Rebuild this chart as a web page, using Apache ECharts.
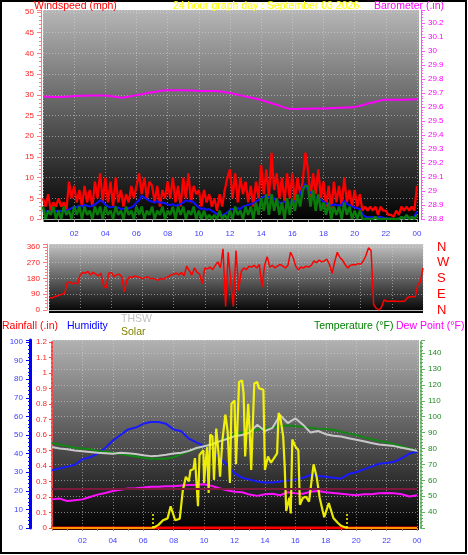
<!DOCTYPE html>
<html><head><meta charset="utf-8">
<script src="https://cdn.jsdelivr.net/npm/echarts@6/dist/echarts.min.js"></script>
<style>html,body{margin:0;padding:0;background:#fff}#c{width:468px;height:555px}</style>
</head><body><div id="c"></div>
<script>
// ---------- data ----------
const hourLabels = ['', '02', '04', '06', '08', '10', '12', '14', '16', '18', '20', '22', '00'];
const dirLetters = ['N', 'E', 'S', 'W', 'N'];

// wind, 10-minute samples 00:00 .. 24:00 (mph)
const windGust = [
5,3,6,2,4,3, 5,3,4,2,9,5, 8,4,7,3,8,4, 7,3,9,5,11,4, 10,4,9,3,10,4, 7,3,6,4,8,5,
8,11,6,10,5,9, 8,4,8,3,7,5, 9,5,10,4,8,3, 10,5,11,4,8,6, 7,3,7,4,6,3, 5,2,6,3,7,10,
12,5,11,4,10,6, 9,4,8,3,9,5, 13,6,12,5,16,7, 11,5,10,4,11,5, 11,4,10,6,9,16, 12,5,11,6,12,5,
9,3,8,2,9,4, 8,3,10,4,7,3, 7,3,6,2,3,2, 3,2,3,1,3,2, 2,1,1,0.5,2,1, 3,2,3,2,3,2, 8];
const windAvg = [
2,1.8,2,1.7,1.8,2, 1.8,2,1.7,2,2.3,2.6, 3,2.8,3.2,3,3.4,3.2, 3,3.2,3.5,4,4.5,4.2, 3.5,3,2.8,3,2.7,2.8, 2.4,2.5,2.3,2.6,2.8,3.2,
4,4.5,5.6,5.2,4.8,4.4, 4.2,4,4.3,3.9,4,3.8, 3.5,3.4,3.6,3.2,3.4,3.6, 4,4.5,4.3,4.4,4,3.4, 2.8,2.4,2.6,2.2,2.4,2, 1.6,1.2,1,0.8,1.2,1.6,
2.2,2.4,2.2,2.6,2.4,3, 3.2,3.4,3.6,3.8,4.2,4.6, 5,5.4,5.6,5.2,5.8,5, 4.4,4,3.8,4.2,4,3.8, 4.4,4.2,5,6,7.5,8.5, 7,6.3,6,5.2,5,4.6,
4.2,3.8,3.4,3.2,3.6,3.3, 3.4,3.2,4.5,3.6,3.4,3, 2.8,2.6,2.4,1.2,0.6,0.4, 0.4,0.5,0.3,0.4,0.5,0.3, 0.2,0,0.1,0,0,0.1, 0.3,0.4,0.5,0.4,0.3,0.6, 1.8];
const windLow = [
3,0,2,1,3,0, 2,0,3,1,2,0, 3,1,3,0,3,1, 2,0,3,1,3,0, 3,1,2,0,3,1, 2,0,3,1,2,0,
3,1,3,0,2,1, 3,0,2,1,3,0, 2,1,3,0,3,1, 3,0,2,1,3,0, 2,0,2,0,1,0, 1,0,2,0,1,0,
2,0,3,1,2,0, 3,1,3,0,4,1, 5,2,6,1,6,2, 5,1,4,0,5,1, 5,2,6,3,7,8, 8,3,7,2,6,2,
4,1,4,0,3,1, 3,0,4,1,3,0, 2,0,2,0,0,0, 0,0,0.5,0,0,0, 0,0,0,0,0,0, 0.5,0,1,0,0.5,0, 1];

// barometer, hourly (in)
const baroValues = [29.675,29.672,29.678,29.682,29.683,29.667,29.685,29.705,29.72,29.72,29.715,29.714,29.70,
29.675,29.65,29.615,29.585,29.588,29.59,29.595,29.60,29.628,29.652,29.652,29.655];

// wind direction, 10-minute samples (degrees)
const windDir = [
70,68,75,80,85,90, 95,155,160,150,155,150, 200,215,210,220,200,215, 205,195,210,140,125,210, 215,190,200,205,190,105, 170,190,185,195,190,185,
180,185,190,178,182,175, 170,180,175,185,190,200, 205,210,200,215,195,250, 225,200,240,215,205,150, 240,235,245,230,255,275, 240,350,20,330,150,20,
340,110,220,240,230,250, 245,255,240,260,130,255, 305,245,255,240,250,260, 250,240,255,330,300,250, 230,245,240,250,245,255, 280,270,285,275,280,290,
260,210,275,330,300,285, 260,240,255,260,258,265, 262,280,310,355,340,30, 10,0,15,57,50,50, 52,50,50,48,50,52, 70,76,76,75,145,160, 240];

// half-hourly samples 00:00 .. 24:00
const humidity = [31,32,33,34,37,38,40,43,47,50,53,54,56,57,57,56,53,52,48,46,44,41,38,34,29.5,27,26,25,24.5,24.5,
25,25.5,26,27,28.5,28,27.5,27,26.5,29,30,31.5,33,34.5,35,35.6,37.5,40,41];
const temperature = [83.5,82.5,81.5,80.5,80,79.5,78.5,78,77.3,76.5,75.8,75,74.2,73.5,73.5,73.6,74.5,76.5,78.3,80,81.5,83,84.5,86.5,
89,90,91,92,92.5,93,94,94.4,94,93.7,93,92.5,92.2,91.8,90.5,89.5,88.5,87,86,84.8,84,82.7,81.5,80,78.5];
const thsw = [81,80,79.5,78.8,78.3,77.8,77.3,77,76.7,77.3,77,76.5,75.8,75.2,75.5,76,76.8,77.3,78.5,80.3,81.4,82.5,84.5,86,
87.7,88.5,90,95,91,93,101,96,99,95,90,91,89,88,87.5,86.5,85.5,84.5,83.5,82.5,82,81.5,80.5,79.5,78.5];
const dewPoint = [48,48.5,47,47.5,48,49.5,51,52,53.3,54,54.8,55,55.4,56,56,56.2,56.3,56.8,57,57.2,57.5,56.5,55,53.8,
52.8,52.5,51,50.2,51.2,51.5,50.6,52.5,51.8,51.6,52.8,53.3,52.5,52,51.5,51,50.6,51.2,51.2,51.8,52,51.8,51.2,49.8,50.6];

// hourly rainfall (in)
const rainfall = [0,0,0,0,0,0,0,0,0,0,0,0,0,0,0,0,0,0,0,0,0,0,0,0,0];

// solar radiation (W/m2), irregular samples
const solarHours = [0,6.65,7.0,7.3,7.6,7.8,7.9,8.1,8.4,8.6,8.8,9.0,9.1,9.3,9.4,9.5,9.6,9.7,9.95,10.0,10.1,10.2,10.3,10.4,10.55,10.65,10.8,10.95,11.05,11.2,
11.4,11.55,11.7,11.8,12.0,12.1,12.3,12.5,12.6,12.7,12.9,13.0,13.1,13.3,13.5,13.6,13.9,14.0,14.2,14.4,14.6,14.8,14.9,15.0,15.2,15.3,15.4,15.6,15.7,15.8,
16.0,16.2,16.3,16.5,16.7,16.9,17.2,17.3,17.4,17.5,17.6,17.8,17.9,18.2,18.5,18.8,19.0,19.4,24];
const solarValues = [0,0,20,50,62,140,130,50,60,240,330,300,370,380,450,440,140,470,500,290,420,520,225,600,590,310,640,480,330,560,
730,620,290,800,820,410,940,950,865,460,800,620,373,930,940,900,890,373,460,420,450,480,740,720,590,400,110,195,94,570,
525,500,150,195,200,170,410,416,330,320,195,110,70,160,65,32,15,0,0];
const sunMarks = [6.65, 19.4];

// ---------- build ----------
const step10 = i => i / 6;
const pairs = (arr, f) => arr.map((v, i) => [f(i), v]);
const half = i => i / 2;
const hourly = i => i;

const FONT = '"Liberation Sans", Arial, sans-serif';
const dotted = {show: true, lineStyle: {color: 'rgba(215,215,215,0.55)', type: [1, 2], width: 1}};
const xCommon = (grid, showLabel, margin) => ({
  type: 'value', gridIndex: grid, min: 0, max: 24, interval: 2,
  axisLine: {show: true, onZero: false, lineStyle: {color: '#bbbbbb'}},
  axisTick: {show: showLabel, length: 3, lineStyle: {color: '#999'}},
  minorTick: {show: showLabel, splitNumber: 2, length: 3, lineStyle: {color: '#999'}},
  axisLabel: {show: showLabel, color: '#4040ff', fontSize: 8, fontFamily: FONT, margin: margin,
    showMinLabel: false, formatter: v => hourLabels[Math.round(v / 2)] || ''},
  splitLine: dotted
});
const yAxisStyle = (color, fs) => ({
  axisLine: {show: true, onZero: false, lineStyle: {color: color}},
  axisTick: {show: true, length: 4, lineStyle: {color: color}},
  minorTick: {show: true, splitNumber: 5, length: 2, lineStyle: {color: color}},
  axisLabel: {color: color, fontSize: fs || 8, fontFamily: FONT, showMaxLabel: false}
});
function merge(a, b) { for (const k in b) { if (b[k] && typeof b[k] === 'object' && !Array.isArray(b[k]) && a[k]) a[k] = merge(Object.assign({}, a[k]), b[k]); else a[k] = b[k]; } return a; }

const lineS = (name, x, y, data, color, w, extra) => Object.assign({
  name, type: 'line', xAxisIndex: x, yAxisIndex: y, data, symbol: 'none', animation: false,
  lineStyle: {color, width: w}, itemStyle: {color}
}, extra || {});

const bg = (x, y, w, h, top) => ({
  type: 'rect', z: -10, shape: {x, y, width: w, height: h},
  style: {fill: new echarts.graphic.LinearGradient(0, 0, 0, 1, [{offset: 0, color: top}, {offset: 1, color: '#000'}])}
});
const txt = (text, x, y, fill) => ({
  type: 'text', x, y, z: 10,
  style: {text, fill, font: '10.5px ' + FONT, verticalAlign: 'middle', textVerticalAlign: 'middle'}
});

const chart = echarts.init(document.getElementById('c'), null, {renderer: 'canvas'});
chart.setOption({
  animation: false,
  backgroundColor: '#ffffff',
  grid: [
    {left: 43, top: 10, width: 374, height: 209},
    {left: 49, top: 244, width: 374, height: 66},
    {left: 52, top: 340, width: 365, height: 188}
  ],
  xAxis: [
    xCommon(0, true, 11),
    xCommon(1, false, 0),
    xCommon(2, true, 9)
  ],
  yAxis: [
    merge(merge({type: 'value', gridIndex: 0, position: 'left', offset: 2, min: 0, max: 50.48, interval: 5, splitLine: dotted}, yAxisStyle('#ff7a7a')),
      {axisLabel: {color: '#ff2020', margin: 7}}),
    merge(merge({type: 'value', gridIndex: 0, position: 'right', offset: 4, min: 28.8, max: 30.293, interval: 0.1, splitLine: {show: false}}, yAxisStyle('#ff50ff')),
      {axisLabel: {color: '#ff00ff', margin: 7}}),
    merge(merge({type: 'value', gridIndex: 1, position: 'left', offset: 2, min: 0, max: 377.1, interval: 90, splitLine: dotted}, yAxisStyle('#ff7a7a')),
      {axisLabel: {color: '#ff2020', margin: 7}}),
    {type: 'value', gridIndex: 1, position: 'right', min: 0, max: 377.1, interval: 90,
      axisLine: {show: false}, axisTick: {show: false}, splitLine: {show: false},
      axisLabel: {color: '#ff0000', fontSize: 13, fontFamily: FONT, margin: 14, showMaxLabel: false,
        formatter: v => dirLetters[Math.round(v / 90)] || ''}},
    merge(merge({type: 'value', gridIndex: 2, position: 'left', offset: 22, min: 0, max: 101.08, interval: 10, splitLine: {show: false}}, yAxisStyle('#0000ff')),
      {axisLine: {lineStyle: {width: 3}}, axisLabel: {color: '#4040ff', margin: 7}}),
    merge(merge({type: 'value', gridIndex: 2, position: 'left', offset: 0, min: 0, max: 1.2129, interval: 0.1, splitLine: {show: false}}, yAxisStyle('#ff4040')),
      {axisLine: {lineStyle: {type: [2, 2], width: 2}}, axisTick: {length: 3}, minorTick: {show: false}, axisLabel: {color: '#ff2020', margin: 5}}),
    merge(merge({type: 'value', gridIndex: 2, position: 'right', offset: 4, min: 30, max: 148.24, interval: 10, splitLine: dotted}, yAxisStyle('#60b060')),
      {axisLine: {lineStyle: {type: [2, 2], width: 2}}, axisLabel: {color: '#228b22', margin: 7, showMinLabel: false}}),
    {type: 'value', gridIndex: 2, position: 'right', min: 0, max: 1210, show: false, splitLine: {show: false}}
  ],
  visualMap: [{
    type: 'piecewise', show: false, seriesIndex: 10, dimension: 0,
    pieces: [{lt: 6.7, color: '#ffa500'}, {gte: 6.7, lt: 19.4, color: '#ffff00'}, {gte: 19.4, color: '#ffa500'}]
  }],
  series: [
    lineS('Gust', 0, 0, pairs(windGust, step10), '#ff0000', 2.3),
    lineS('Avg', 0, 0, pairs(windAvg, step10), '#1010ff', 2),
    lineS('Wind', 0, 0, pairs(windLow, step10), '#0a7a0a', 2.5),
    lineS('Barometer', 0, 1, pairs(baroValues, hourly), '#ff00ff', 2, {smooth: 0.3}),
    lineS('Direction', 1, 2, pairs(windDir, step10), '#ff0000', 1.5),
    lineS('Humidity', 2, 4, pairs(humidity, half), '#1a1aff', 2),
    lineS('Temperature', 2, 6, pairs(temperature, half), '#118811', 2),
    lineS('THSW', 2, 6, pairs(thsw, half), '#c8c8c8', 2),
    lineS('Dew Point', 2, 6, pairs(dewPoint, half), '#ff10ff', 2, {
      markLine: {silent: true, symbol: 'none', label: {show: false}, animation: false,
        lineStyle: {color: '#7a1a3c', width: 2, type: 'solid'}, data: [{yAxis: 55}]}
    }),
    lineS('Rainfall', 2, 5, pairs(rainfall, hourly), '#ff0000', 3),
    lineS('Solar', 2, 7, solarHours.map((h, i) => [h, solarValues[i]]), '#ffff00', 2, {
      lineStyle: {width: 2.2, opacity: 0.9},
      markLine: {silent: true, symbol: 'none', label: {show: false}, animation: false,
        lineStyle: {color: '#ffff00', width: 1.5, type: [2, 2]},
        data: sunMarks.map(h => [{coord: [h, 0]}, {coord: [h, 100]}])}
    })
  ],
  graphic: [
    bg(43, 10, 376, 212, '#b6b6b6'),
    bg(49, 244, 374, 69, '#c2c2c2'),
    bg(52, 340, 367, 190, '#b2b2b2'),
    {type: 'rect', z: 10, shape: {x: 1, y: 1, width: 465, height: 552}, style: {fill: 'none', stroke: '#000', lineWidth: 2}},
    txt('Windspeed (mph)', 34, 6, '#ff0000'),
    txt('24 hour graph day : September 03 2026', 173, 6, '#ffff00'),
    txt('Barometer (.in)', 374, 6, '#ff00ff'),
    txt('Rainfall (.in)', 2, 326, '#ff0000'),
    txt('Humidity', 67, 326, '#0000ff'),
    txt('THSW', 121, 319, '#c0c0c0'),
    txt('Solar', 121, 332, '#808000'),
    txt('Temperature (°F)', 314, 326, '#008000'),
    txt('Dew Point (°F)', 396, 326, '#ff00ff')
  ]
});
</script>
</body></html>
